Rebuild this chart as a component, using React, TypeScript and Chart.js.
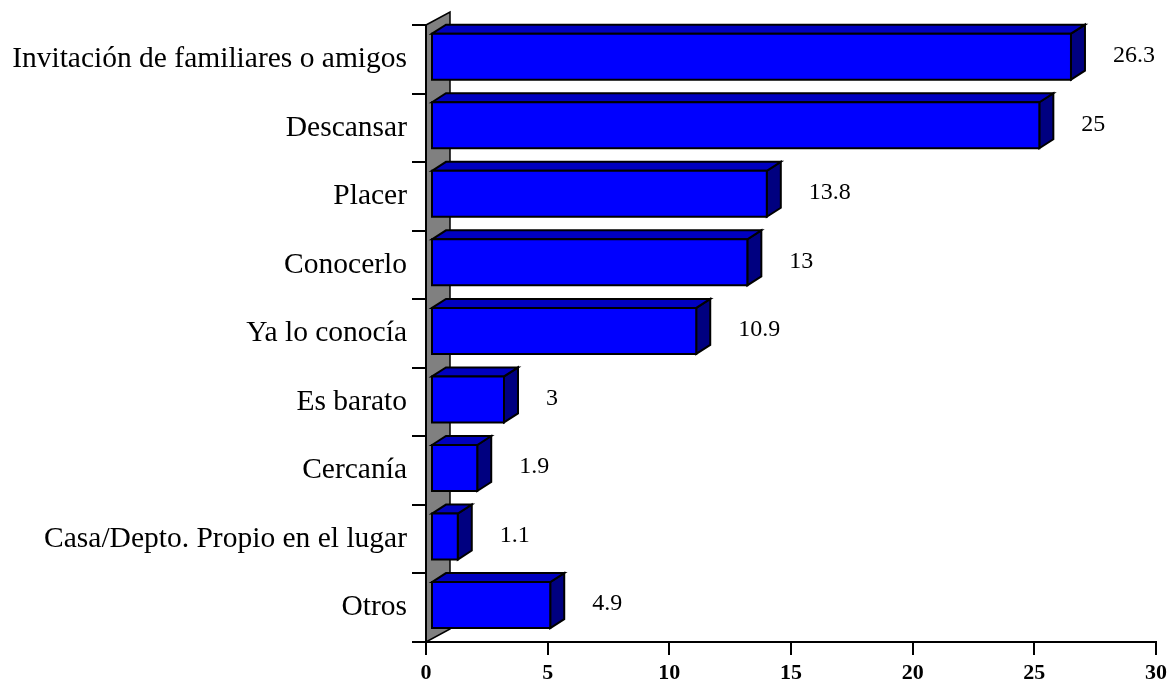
import React, { useEffect, useRef } from "react";
import { Chart, registerables } from "chart.js";
Chart.register(...registerables);

const categories = [
  "Invitación de familiares o amigos",
  "Descansar",
  "Placer",
  "Conocerlo",
  "Ya lo conocía",
  "Es barato",
  "Cercanía",
  "Casa/Depto. Propio en el lugar",
  "Otros",
];
const values = [26.3, 25, 13.8, 13, 10.9, 3, 1.9, 1.1, 4.9];
const valueLabels = ["26.3", "25", "13.8", "13", "10.9", "3", "1.9", "1.1", "4.9"];
const xMin = 0;
const xMax = 30;
const xStep = 5;

const SERIF = "'Liberation Serif', 'Times New Roman', serif";

const threeD = {
  id: "threeD",
  beforeDatasetsDraw(chart: any) {
    const { ctx, chartArea } = chart;
    const L = chartArea.left, T = chartArea.top, B = chartArea.bottom;
    const wdx = 24, wdy = -13;
    ctx.save();
    ctx.beginPath();
    ctx.moveTo(L, T);
    ctx.lineTo(L + wdx, T + wdy);
    ctx.lineTo(L + wdx, B + wdy);
    ctx.lineTo(L, B);
    ctx.closePath();
    ctx.fillStyle = "#808080";
    ctx.fill();
    ctx.lineWidth = 1.5;
    ctx.strokeStyle = "#000";
    ctx.stroke();
    ctx.beginPath();
    ctx.moveTo(L, T);
    ctx.lineTo(L, B);
    ctx.lineWidth = 2;
    ctx.stroke();
    ctx.restore();
  },
  afterDatasetsDraw(chart: any) {
    const { ctx } = chart;
    const meta = chart.getDatasetMeta(0);
    const dx = 14, dy = -9, fx = 5, fy = -2.6;
    ctx.save();
    ctx.lineWidth = 2;
    ctx.strokeStyle = "#000";
    ctx.lineJoin = "miter";
    meta.data.forEach((bar: any, i: number) => {
      const p = bar.getProps(["x", "y", "base", "height"], true);
      const x0 = p.base + fx;
      const x1 = p.x + fx;
      const yT = p.y - p.height / 2 + fy;
      const yB = p.y + p.height / 2 + fy;
      // side
      ctx.beginPath();
      ctx.moveTo(x1, yT);
      ctx.lineTo(x1 + dx, yT + dy);
      ctx.lineTo(x1 + dx, yB + dy);
      ctx.lineTo(x1, yB);
      ctx.closePath();
      ctx.fillStyle = "#000080";
      ctx.fill();
      ctx.stroke();
      // top
      ctx.beginPath();
      ctx.moveTo(x0, yT);
      ctx.lineTo(x0 + dx, yT + dy);
      ctx.lineTo(x1 + dx, yT + dy);
      ctx.lineTo(x1, yT);
      ctx.closePath();
      ctx.fillStyle = "#0000C0";
      ctx.fill();
      ctx.stroke();
      // front
      ctx.beginPath();
      ctx.rect(x0, yT, x1 - x0, yB - yT);
      ctx.fillStyle = "#0000FF";
      ctx.fill();
      ctx.stroke();
      // label
      ctx.fillStyle = "#000";
      ctx.font = `24px ${SERIF}`;
      ctx.textAlign = "left";
      ctx.textBaseline = "middle";
      ctx.fillText(valueLabels[i], x1 + 42, p.y + fy - 1);
    });
    ctx.restore();
  },
};

export default function App() {
  const ref = useRef<HTMLCanvasElement | null>(null);
  useEffect(() => {
    document.body.style.margin = "0";
    const chart = new Chart(ref.current as HTMLCanvasElement, {
      type: "bar",
      data: {
        labels: categories,
        datasets: [
          {
            data: values,
            backgroundColor: "rgba(0,0,0,0)",
            borderWidth: 0,
            barPercentage: 0.671,
            categoryPercentage: 1,
          },
        ],
      },
      options: {
        indexAxis: "y",
        responsive: true,
        maintainAspectRatio: false,
        animation: false,
        layout: { padding: { top: 25, right: 13, left: 0, bottom: 0 } },
        plugins: {
          legend: { display: false },
          tooltip: { enabled: false },
          title: { display: false },
        },
        scales: {
          x: {
            type: "linear",
            min: xMin,
            max: xMax,
            ticks: {
              stepSize: xStep,
              color: "#000",
              font: { family: SERIF, size: 22, weight: "bold" },
              padding: 5,
            },
            grid: {
              drawOnChartArea: false,
              drawTicks: true,
              tickLength: 13,
              color: "#000",
              lineWidth: 2,
            },
            border: { display: true, color: "#000", width: 2 },
            afterFit: (s: any) => {
              s.height = 39;
            },
          },
          y: {
            type: "category",
            ticks: {
              color: "#000",
              font: { family: SERIF, size: 29.5 },
              padding: 5,
            },
            grid: {
              drawOnChartArea: false,
              drawTicks: true,
              tickLength: 14,
              color: "#000",
              lineWidth: 2,
              offset: true,
            },
            border: { display: false },
            afterFit: (s: any) => {
              s.width = 426;
            },
          },
        },
      },
      plugins: [threeD],
    } as any);
    return () => chart.destroy();
  }, []);
  return (
    <div style={{ width: 1172, height: 681, position: "relative" }}>
      <canvas ref={ref} />
    </div>
  );
}
